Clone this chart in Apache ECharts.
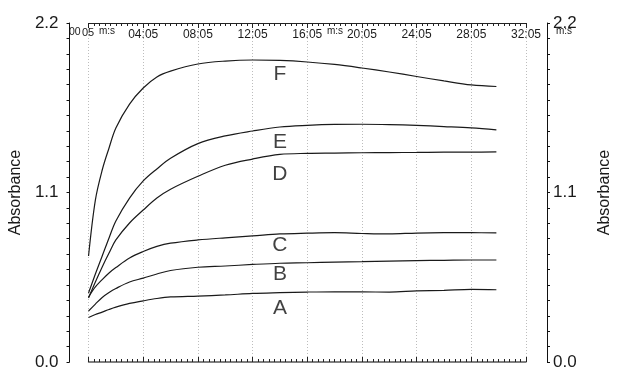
<!DOCTYPE html>
<html><head><meta charset="utf-8">
<script src="https://cdn.jsdelivr.net/npm/echarts@6/dist/echarts.min.js"></script>
<style>html,body{margin:0;padding:0;background:#fff}#c{width:621px;height:372px}</style>
</head><body><div id="c"></div>
<script>
// elapsed time (seconds, clock value)
const T0 = 5;
const timeSec = [5, 35, 65, 95, 125, 185, 245, 305, 365, 485, 605, 725, 845, 965, 1085, 1205, 1325, 1445, 1565, 1685, 1795];
const seriesNames = ['A', 'B', 'C', 'D', 'E', 'F'];
const valuesA = [0.289,0.308,0.324,0.341,0.356,0.380,0.397,0.412,0.422,0.428,0.435,0.445,0.450,0.454,0.456,0.455,0.454,0.461,0.465,0.471,0.469];
const valuesB = [0.331,0.376,0.419,0.451,0.477,0.519,0.544,0.571,0.594,0.615,0.623,0.633,0.641,0.644,0.648,0.651,0.655,0.658,0.660,0.662,0.662];
const valuesC = [0.422,0.487,0.535,0.578,0.613,0.675,0.717,0.750,0.771,0.792,0.806,0.818,0.831,0.836,0.839,0.834,0.831,0.837,0.839,0.839,0.838];
const valuesD = [0.415,0.519,0.617,0.707,0.792,0.902,0.986,1.064,1.121,1.205,1.277,1.317,1.347,1.354,1.356,1.358,1.359,1.360,1.362,1.362,1.363];
const valuesE = [0.448,0.571,0.688,0.805,0.915,1.064,1.175,1.253,1.322,1.417,1.467,1.499,1.525,1.536,1.542,1.543,1.541,1.536,1.528,1.519,1.506];
const valuesF = [0.688,1.051,1.246,1.389,1.519,1.674,1.778,1.850,1.888,1.934,1.953,1.960,1.957,1.947,1.931,1.908,1.882,1.853,1.824,1.798,1.788];
// curve name labels: time (s) and absorbance of the letter's centre
const labelTime = [845, 845, 845, 845, 845, 845];
const labelValue = [0.350, 0.571, 0.755, 1.220, 1.424, 1.866];
// axis settings
const yTickLabels = ['0.0', '1.1', '2.2'];
const xMaxOffset = 1920, xInterval = 240;

const allValues = [valuesA, valuesB, valuesC, valuesD, valuesE, valuesF];
const FONT = '"Liberation Sans", Arial, Helvetica, sans-serif';
function fmt(off) {
  const s = off + T0;
  const m = Math.floor(s / 60), sec = Math.round(s % 60);
  return String(m).padStart(2, '0') + ':' + String(sec).padStart(2, '0');
}

const lineSeries = seriesNames.map((n, i) => ({
  name: n, type: 'line', xAxisIndex: 0, yAxisIndex: 0,
  data: timeSec.map((t, j) => [t - T0, allValues[i][j]]),
  showSymbol: false, smooth: 0.35,
  lineStyle: { color: '#1a1a1a', width: 1.2 },
  silent: true, z: 3
}));
const labelSeries = {
  type: 'scatter', xAxisIndex: 0, yAxisIndex: 0, symbolSize: 1,
  itemStyle: { color: 'rgba(0,0,0,0)' },
  data: seriesNames.map((n, i) => ({ name: n, value: [labelTime[i] - T0, labelValue[i]] })),
  label: { show: true, position: 'inside', formatter: p => p.name, color: '#111', fontSize: 21, fontFamily: FONT },
  silent: true, z: 4
};

const yBase = {
  type: 'value', min: 0, max: 2.2, interval: 1.1,
  axisLine: { show: true, onZero: false, lineStyle: { color: '#111', width: 1 } },
  axisTick: { show: true, inside: false, length: 3, lineStyle: { color: '#111' } },
  minorTick: { show: true, splitNumber: 11, length: 3, lineStyle: { color: '#111' } },
  splitLine: { show: false },
  axisLabel: { color: '#1a1a1a', fontSize: 17, fontFamily: FONT, formatter: v => yTickLabels[Math.round(v / 1.1)] },
  name: 'Absorbance', nameLocation: 'middle', nameRotate: 90,
  nameTextStyle: { color: '#1a1a1a', fontSize: 16, fontFamily: FONT }
};

const option = {
  animation: false,
  backgroundColor: '#fff',
  grid: { left: 87, right: 89, top: 23, bottom: 10 },
  xAxis: [
    { type: 'value', position: 'top', min: 0, max: xMaxOffset, interval: xInterval,
      axisLine: { show: true, onZero: false, lineStyle: { color: '#222', width: 1 } },
      axisTick: { show: true, inside: true, length: 5, lineStyle: { color: '#222' } },
      minorTick: { show: true, splitNumber: 10, length: 3, lineStyle: { color: '#222' } },
      splitLine: { show: true, lineStyle: { color: '#bdbdbd', type: [1, 2], width: 1 } },
      axisLabel: { inside: true, margin: 6, color: '#1a1a1a', fontSize: 12, fontFamily: FONT,
        formatter: v => v === 0 ? '' : fmt(v) }
    },
    { type: 'value', position: 'bottom', min: 0, max: xMaxOffset, interval: xInterval,
      axisLine: { show: true, onZero: false, lineStyle: { color: '#555', width: 1.5 } },
      axisTick: { show: true, inside: true, length: 5, lineStyle: { color: '#222' } },
      minorTick: { show: true, splitNumber: 10, length: 3, lineStyle: { color: '#222' } },
      splitLine: { show: false },
      axisLabel: { show: false }
    }
  ],
  yAxis: [
    Object.assign({}, yBase, { position: 'left', offset: 19, nameGap: 44,
      axisLabel: Object.assign({}, yBase.axisLabel, { margin: 11 }) }),
    Object.assign({}, yBase, { position: 'right', offset: 21, nameGap: 50,
      axisLabel: Object.assign({}, yBase.axisLabel, { margin: 6 }) })
  ],
  graphic: [
    { type: 'text', left: 69, top: 27, style: { text: '00', fontSize: 10.5, fontFamily: FONT, fill: '#1a1a1a' } },
    { type: 'text', left: 82, top: 27, style: { text: '05', fontSize: 11, fontFamily: FONT, fill: '#1a1a1a' } },
    { type: 'text', left: 99, top: 26, style: { text: 'm:s', fontSize: 10, fontFamily: FONT, fill: '#1a1a1a' } },
    { type: 'text', left: 327, top: 26, style: { text: 'm:s', fontSize: 10, fontFamily: FONT, fill: '#1a1a1a' } },
    { type: 'text', left: 556, top: 26, style: { text: 'm:s', fontSize: 10, fontFamily: FONT, fill: '#1a1a1a' } }
  ],
  series: lineSeries.concat([labelSeries])
};
const chart = echarts.init(document.getElementById('c'), null, { renderer: 'canvas' });
chart.setOption(option);
</script></body></html>
